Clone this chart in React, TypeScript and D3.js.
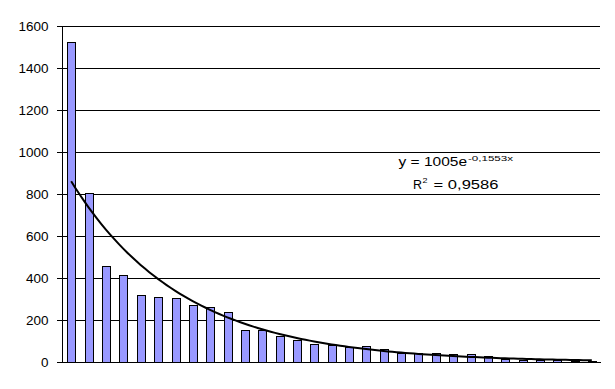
import React from "react";
import * as d3 from "d3";

const categories: number[] = Array.from({ length: 31 }, (_, i) => i + 1);
const values: number[] = [
  1525, 805, 456, 413, 321, 308, 303, 270, 263, 237,
  154, 152, 122, 103, 84, 82, 73, 76, 60, 44,
  45, 41, 38, 38, 28, 14, 10, 8, 10, 4, 3,
];
const yTicks: number[] = [0, 200, 400, 600, 800, 1000, 1200, 1400, 1600];
const trendA = 1005;
const trendB = -0.1553;
const eqText = "y = 1005e";
const eqExp = "-0,1553x";
const r2Value = "0,9586";

const W = 615;
const H = 389;
const left = 62.5;
const right = 600.5;
const top = 26;
const bottom = 362;

export default function App() {
  const x = d3
    .scaleBand<number>()
    .domain(categories)
    .range([left, right])
    .paddingInner(0.565)
    .paddingOuter(0.2825);
  const y = d3.scaleLinear().domain([0, 1600]).range([bottom, top]);
  const center = (c: number) => (x(c) as number) + x.bandwidth() / 2;

  const xc = d3
    .scaleLinear()
    .domain([1, 31])
    .range([center(1), center(31)]);
  const trendPts: [number, number][] = d3
    .range(1, 31.0001, 0.25)
    .map((t) => [xc(t), y(trendA * Math.exp(trendB * t))]);
  const line = d3.line();

  const font = "'Liberation Sans', Arial, sans-serif";

  return (
    <svg
      width={W}
      height={H}
      style={{ position: "absolute", left: 0, top: 0, background: "#fff" }}
    >
      <rect x={0} y={0} width={W} height={H} fill="#fff" />
      {yTicks.map((t) => {
        const s = String(t);
        return (
          <g key={t}>
            <line
              x1={57}
              x2={t === 0 ? 601 : 600}
              y1={Math.round(y(t)) + 0.5}
              y2={Math.round(y(t)) + 0.5}
              stroke="#000"
              strokeWidth={1}
            />
            <text
              x={48.5 - s.length * 7.5}
              y={Math.round(y(t)) + 5}
              fontFamily={font}
              fontSize={12}
              fill="#000"
              textLength={s.length * 7.5}
              lengthAdjust="spacingAndGlyphs"
            >
              {s}
            </text>
          </g>
        );
      })}
      <line x1={left} x2={left} y1={top} y2={bottom + 0.5} stroke="#000" strokeWidth={1} />
      {categories.map((c, i) => (
        <rect
          key={c}
          x={Math.round(x(c) as number) + 0.5}
          y={Math.round(y(values[i])) + 0.5}
          width={Math.round(x.bandwidth())}
          height={Math.max(0, Math.round(bottom) - Math.round(y(values[i])))}
          fill="#9999FF"
          stroke="#000"
          strokeWidth={1}
        />
      ))}
      <path
        d={line(trendPts) || ""}
        fill="none"
        stroke="#000"
        strokeWidth={2}
        strokeLinejoin="round"
      />
      <text x={398.5} y={166} fontFamily={font} fontSize={12} fill="#000" textLength={68.5} lengthAdjust="spacingAndGlyphs" style={{ whiteSpace: "pre" }}>
        {eqText}
      </text>
      <text x={468} y={160.5} fontFamily={font} fontSize={8} fill="#000" textLength={45} lengthAdjust="spacingAndGlyphs">
        {eqExp}
      </text>
      <text x={413} y={188.5} fontFamily={font} fontSize={12} fill="#000" textLength={9} lengthAdjust="spacingAndGlyphs">
        R
      </text>
      <text x={422.5} y={183} fontFamily={font} fontSize={8} fill="#000" textLength={5} lengthAdjust="spacingAndGlyphs">
        2
      </text>
      <text x={429} y={188.5} fontFamily={font} fontSize={12} fill="#000" textLength={69.5} lengthAdjust="spacingAndGlyphs" style={{ whiteSpace: "pre" }}>
        {" = " + r2Value}
      </text>
    </svg>
  );
}
